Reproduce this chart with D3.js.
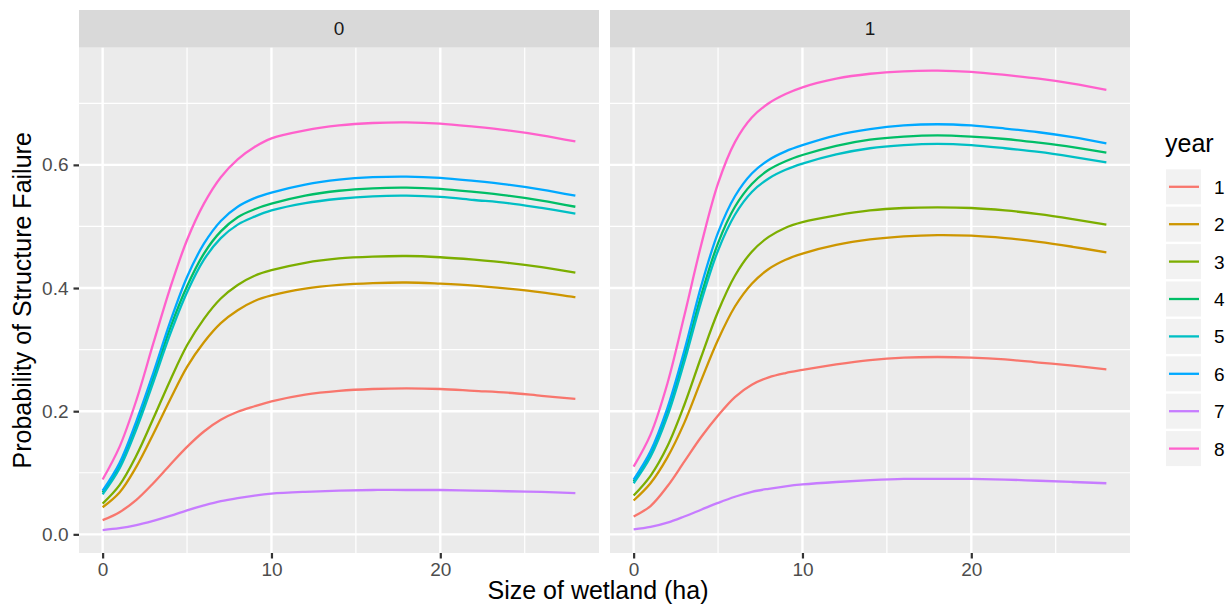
<!DOCTYPE html>
<html>
<head>
<meta charset="utf-8">
<script src="https://cdn.jsdelivr.net/npm/d3@7"></script>
<style>
  html, body { margin: 0; padding: 0; background: #fff; }
  svg { display: block; font-family: "Liberation Sans", Arial, Helvetica, sans-serif; }
</style>
</head>
<body>
<svg id="chart" width="1230" height="609"></svg>
<script>
// ---------------- data ----------------
const sizes = [0,1,2,3,4,5,6,7,8,9,10,12,14,16,18,20,22,24,26,28];
const facets = ["0", "1"];
const years = ["1","2","3","4","5","6","7","8"];
const yearColors = ["#F8766D","#CD9600","#7CAE00","#00BE67","#00BFC4","#00A9FF","#C77CFF","#FF61CC"];
const xTicks = [0, 10, 20];
const yTicks = [0, 0.2, 0.4, 0.6];

// facet "0"
const f0_year1 = [.023,.036,.056,.083,.113,.142,.167,.186,.199,.208,.216,.227,.233,.236,.237,.236,.233,.230,.225,.220];
const f0_year2 = [.044,.068,.110,.163,.219,.272,.312,.343,.364,.379,.388,.399,.405,.408,.409,.407,.404,.399,.393,.385];
const f0_year3 = [.050,.080,.128,.188,.250,.307,.350,.383,.405,.420,.429,.441,.448,.451,.452,.450,.446,.441,.434,.425];
const f0_year4 = [.068,.111,.177,.254,.335,.403,.456,.492,.515,.528,.537,.550,.558,.562,.563,.561,.556,.550,.542,.532];
const f0_year5 = [.065,.107,.171,.247,.325,.393,.446,.481,.503,.516,.526,.538,.545,.549,.550,.548,.543,.538,.530,.521];
const f0_year6 = [.071,.116,.184,.262,.345,.418,.472,.509,.532,.546,.555,.568,.576,.580,.581,.579,.574,.568,.560,.550];
const f0_year7 = [.007,.010,.015,.022,.030,.039,.047,.054,.059,.063,.066,.069,.071,.072,.072,.072,.071,.070,.069,.067];
const f0_year8 = [.089,.142,.218,.310,.400,.478,.537,.580,.609,.629,.643,.656,.664,.668,.669,.667,.662,.656,.648,.638];

// facet "1"
const f1_year1 = [.029,.046,.078,.118,.158,.193,.223,.243,.255,.262,.267,.276,.283,.287,.288,.287,.284,.279,.274,.268];
const f1_year2 = [.055,.083,.125,.181,.250,.316,.370,.407,.431,.446,.456,.470,.479,.484,.486,.485,.481,.475,.467,.458];
const f1_year3 = [.063,.095,.143,.210,.288,.362,.420,.459,.483,.498,.507,.518,.526,.530,.531,.530,.526,.520,.512,.503];
const f1_year4 = [.086,.130,.198,.288,.388,.473,.532,.569,.592,.606,.616,.631,.641,.646,.648,.646,.642,.636,.629,.620];
const f1_year5 = [.083,.126,.192,.280,.378,.461,.519,.556,.578,.592,.602,.617,.627,.632,.634,.632,.627,.621,.613,.604];
const f1_year6 = [.089,.135,.205,.298,.403,.490,.549,.586,.608,.622,.632,.648,.658,.664,.666,.664,.659,.653,.645,.635];
const f1_year7 = [.008,.012,.019,.029,.040,.051,.061,.069,.074,.078,.081,.085,.088,.090,.090,.090,.089,.087,.085,.083];
const f1_year8 = [.110,.162,.245,.355,.470,.570,.637,.677,.700,.715,.726,.740,.748,.752,.753,.751,.746,.740,.732,.722];

const facetSeries = [
  [f0_year1,f0_year2,f0_year3,f0_year4,f0_year5,f0_year6,f0_year7,f0_year8],
  [f1_year1,f1_year2,f1_year3,f1_year4,f1_year5,f1_year6,f1_year7,f1_year8]
];

// ---------------- layout ----------------
const svg = d3.select("#chart");
const panelLefts = [79, 610];
const panelW = 520;
const stripTop = 10, stripBottom = 47.7, panelBottom = 553;

const allVals = facetSeries.flat(2);
const yMin = d3.min(allVals), yMax = d3.max(allVals);
const yPad = (yMax - yMin) * 0.05;
const y = d3.scaleLinear().domain([yMin - yPad, yMax + yPad]).range([panelBottom, stripBottom]);
const xExt = d3.extent(sizes);
const xPad = (xExt[1] - xExt[0]) * 0.05;

const color = d3.scaleOrdinal().domain(years).range(yearColors);
const yMinor = [0.1, 0.3, 0.5, 0.7];
const xMinor = [5, 15, 25];

facets.forEach((fac, fi) => {
  const left = panelLefts[fi];
  const x = d3.scaleLinear().domain([xExt[0] - xPad, xExt[1] + xPad]).range([left, left + panelW]);
  const g = svg.append("g");

  // strip
  g.append("rect").attr("x", left).attr("y", stripTop).attr("width", panelW)
    .attr("height", stripBottom - stripTop).attr("fill", "#D9D9D9");
  g.append("text").attr("x", left + panelW / 2).attr("y", (stripTop + stripBottom) / 2 + 6.6)
    .attr("text-anchor", "middle").attr("font-size", 19).attr("fill", "#1A1A1A").text(fac);

  // panel background
  g.append("rect").attr("x", left).attr("y", stripBottom).attr("width", panelW)
    .attr("height", panelBottom - stripBottom).attr("fill", "#EBEBEB");

  // minor grid
  g.selectAll(".ymin").data(yMinor).join("line")
    .attr("x1", left).attr("x2", left + panelW)
    .attr("y1", d => y(d)).attr("y2", d => y(d))
    .attr("stroke", "#fff").attr("stroke-width", 1.2);
  g.selectAll(".xmin").data(xMinor).join("line")
    .attr("y1", stripBottom).attr("y2", panelBottom)
    .attr("x1", d => x(d)).attr("x2", d => x(d))
    .attr("stroke", "#fff").attr("stroke-width", 1.2);
  // major grid
  g.selectAll(".ymaj").data(yTicks).join("line")
    .attr("x1", left).attr("x2", left + panelW)
    .attr("y1", d => y(d)).attr("y2", d => y(d))
    .attr("stroke", "#fff").attr("stroke-width", 2.4);
  g.selectAll(".xmaj").data(xTicks).join("line")
    .attr("y1", stripBottom).attr("y2", panelBottom)
    .attr("x1", d => x(d)).attr("x2", d => x(d))
    .attr("stroke", "#fff").attr("stroke-width", 2.4);

  // lines
  const line = d3.line().x((d, i) => x(sizes[i])).y(d => y(d)).curve(d3.curveCatmullRom.alpha(0.5));
  facetSeries[fi].forEach((vals, yi) => {
    g.append("path").datum(vals).attr("d", line)
      .attr("fill", "none").attr("stroke", color(years[yi]))
      .attr("stroke-width", 2.3).attr("stroke-linejoin", "round");
  });

  // x axis
  const xAxis = d3.axisBottom(x).tickValues(xTicks).tickSize(5.5).tickPadding(4).tickFormat(d3.format("d"));
  const xa = svg.append("g").attr("transform", `translate(0,${panelBottom})`).call(xAxis);
  xa.select(".domain").remove();
  xa.selectAll(".tick line").attr("stroke", "#333333").attr("stroke-width", 2.2);
  xa.selectAll(".tick text").attr("font-size", 19).attr("fill", "#4D4D4D")
    .attr("font-family", "Liberation Sans, Arial, sans-serif").attr("dy", "0.71em");

  if (fi === 0) {
    const yAxis = d3.axisLeft(y).tickValues(yTicks).tickSize(5.5).tickPadding(5).tickFormat(d3.format(".1f"));
    const ya = svg.append("g").attr("transform", `translate(${left},0)`).call(yAxis);
    ya.select(".domain").remove();
    ya.selectAll(".tick line").attr("stroke", "#333333").attr("stroke-width", 2.2);
    ya.selectAll(".tick text").attr("font-size", 19).attr("fill", "#4D4D4D")
      .attr("font-family", "Liberation Sans, Arial, sans-serif");
  }
});

// axis titles
svg.append("text").attr("x", 598).attr("y", 599).attr("text-anchor", "middle")
  .attr("font-size", 25).attr("fill", "#000").text("Size of wetland (ha)");
svg.append("text").attr("transform", `translate(31,${(stripBottom + panelBottom) / 2}) rotate(-90)`)
  .attr("text-anchor", "middle").attr("font-size", 25).attr("fill", "#000")
  .text("Probability of Structure Failure");

// legend
const lg = svg.append("g");
lg.append("text").attr("x", 1165).attr("y", 152).attr("font-size", 25).attr("fill", "#000").text("year");
const keyTop = 169.3, keyStep = 37.4, keySize = 35;
years.forEach((yr, i) => {
  const ky = keyTop + i * keyStep;
  lg.append("rect").attr("x", 1166).attr("y", ky).attr("width", keySize).attr("height", keySize).attr("fill", "#F2F2F2");
  lg.append("line").attr("x1", 1169).attr("x2", 1199).attr("y1", ky + keySize / 2).attr("y2", ky + keySize / 2)
    .attr("stroke", color(yr)).attr("stroke-width", 2.3);
  lg.append("text").attr("x", 1214).attr("y", ky + keySize / 2 + 7).attr("font-size", 19).attr("fill", "#000").text(yr);
});
</script>
</body>
</html>
